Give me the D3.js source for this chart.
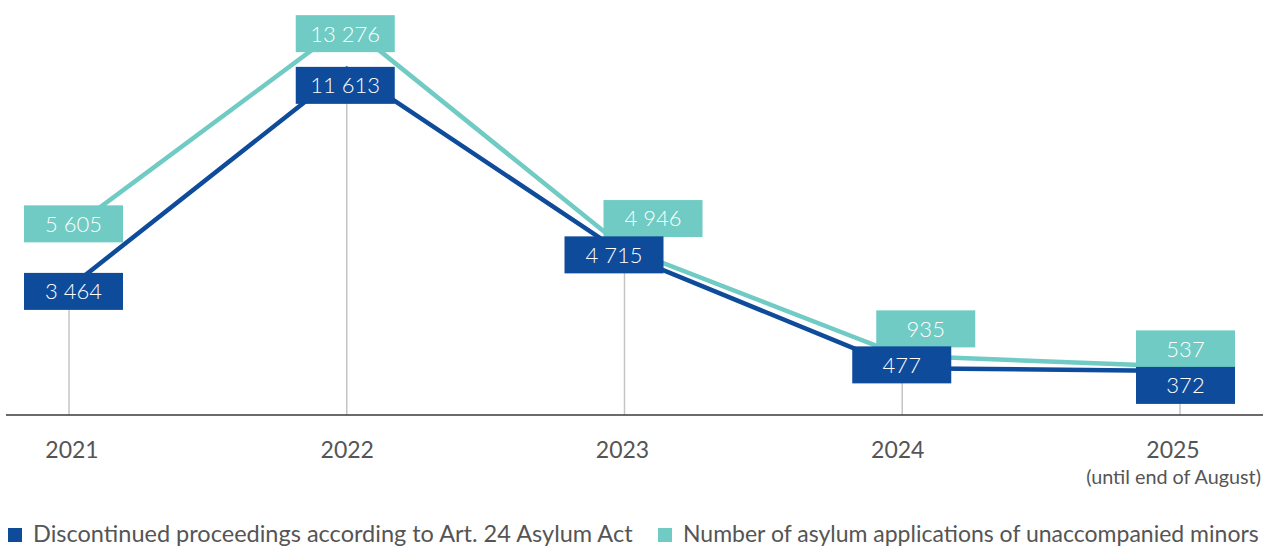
<!DOCTYPE html>
<html>
<head>
<meta charset="utf-8">
<script src="https://cdn.jsdelivr.net/npm/d3@7"></script>
<style>
  html, body { margin: 0; padding: 0; background: #fff; }
  svg { display: block; font-family: Lato, "Open Sans", sans-serif; }
</style>
</head>
<body>
<svg id="chart" width="1263" height="546"></svg>
<script>
// ---- data ----
const years = ["2021", "2022", "2023", "2024", "2025"];
const yearNotes = ["", "", "", "", "(until end of August)"];
const discontinued = [3464, 11613, 4715, 477, 372];
const minors = [5605, 13276, 4946, 935, 537];
const seriesNames = ["Discontinued proceedings according to Art. 24 Asylum Act",
                     "Number of asylum applications of unaccompanied minors"];

// ---- layout ----
const W = 1263, H = 546;
const colors = { dark: "#0e4b9b", teal: "#6fcbc3" };
const baselineY = 415;
const boxW = 99, boxH = 37;
// label box nudges (relative to point) so labels do not overlap
const nudgeDark = [[4.5, 3.5], [-1.5, 16.5], [-10.5, 0.6], [-0.5, -3.3], [5.5, 14.4]];
const nudgeTeal = [[4.5, -6.5], [-1.5, 9.5], [28.5, -29.5], [23.5, -27], [5.5, -17.7]];

const svg = d3.select("#chart");
const x = d3.scalePoint().domain(years).range([69, 1180]);
const xLabel = d3.scalePoint().domain(years).range([72, 1173]);
const y = d3.scaleLinear().domain([0, 14000]).range([381, 4.7]);

const fmt = v => d3.format(",")(v).replace(/,/g, " ");

// gridlines from point down to baseline
svg.append("g").selectAll("line").data(years).join("line")
  .attr("x1", d => x(d)).attr("x2", d => x(d))
  .attr("y1", (d, i) => y(discontinued[i])).attr("y2", baselineY)
  .attr("stroke", "#c4c4c4").attr("stroke-width", 1.5);

// baseline
svg.append("line").attr("x1", 6).attr("x2", W).attr("y1", baselineY).attr("y2", baselineY)
  .attr("stroke", "#3a3a3a").attr("stroke-width", 1.5);

const line = d3.line().x((d, i) => x(years[i])).y(d => y(d));
svg.append("path").datum(minors).attr("d", line)
  .attr("fill", "none").attr("stroke", colors.teal).attr("stroke-width", 4.5).attr("stroke-linejoin", "miter");
svg.append("path").datum(discontinued).attr("d", line)
  .attr("fill", "none").attr("stroke", colors.dark).attr("stroke-width", 4.5).attr("stroke-linejoin", "miter");

function labels(values, nudge, color) {
  const g = svg.append("g").selectAll("g").data(values).join("g")
    .attr("transform", (d, i) => `translate(${x(years[i]) + nudge[i][0]},${y(d) + nudge[i][1]})`);
  g.append("rect").attr("x", -boxW / 2).attr("y", -boxH / 2)
    .attr("width", boxW).attr("height", boxH).attr("fill", color);
  g.append("text").attr("text-anchor", "middle").attr("dy", "0.36em")
    .attr("fill", "#fff").attr("font-size", 22).attr("font-weight", 300)
    .text(d => fmt(d));
}
labels(minors, nudgeTeal, colors.teal);
labels(discontinued, nudgeDark, colors.dark);

// year labels
svg.append("g").selectAll("text").data(years).join("text")
  .attr("x", d => xLabel(d)).attr("y", 458)
  .attr("text-anchor", "middle").attr("fill", "#555").attr("font-size", 23)
  .text(d => d);
svg.append("g").selectAll("text").data(yearNotes.filter(n => n)).join("text")
  .attr("x", W - 2).attr("y", 484)
  .attr("text-anchor", "end").attr("fill", "#555").attr("font-size", 19.8)
  .text(d => d);

// legend
const legend = [
  { name: seriesNames[0], color: colors.dark, x: 8, right: 633 },
  { name: seriesNames[1], color: colors.teal, x: 658, right: 1259 }
];
const lg = svg.append("g").selectAll("g").data(legend).join("g")
  .attr("transform", d => `translate(${d.x},0)`);
lg.append("rect").attr("x", 0).attr("y", 528).attr("width", 14).attr("height", 14).attr("fill", d => d.color);
lg.append("text").attr("x", 25).attr("y", 542).attr("fill", "#555").attr("font-size", 23)
  .text(d => d.name)
  .each(function (d) {
    const avail = d.right - d.x - 25;
    const len = this.getComputedTextLength();
    const fs = Math.min(24, 23 * avail / len);
    d3.select(this).attr("font-size", fs);
  });
</script>
</body>
</html>
